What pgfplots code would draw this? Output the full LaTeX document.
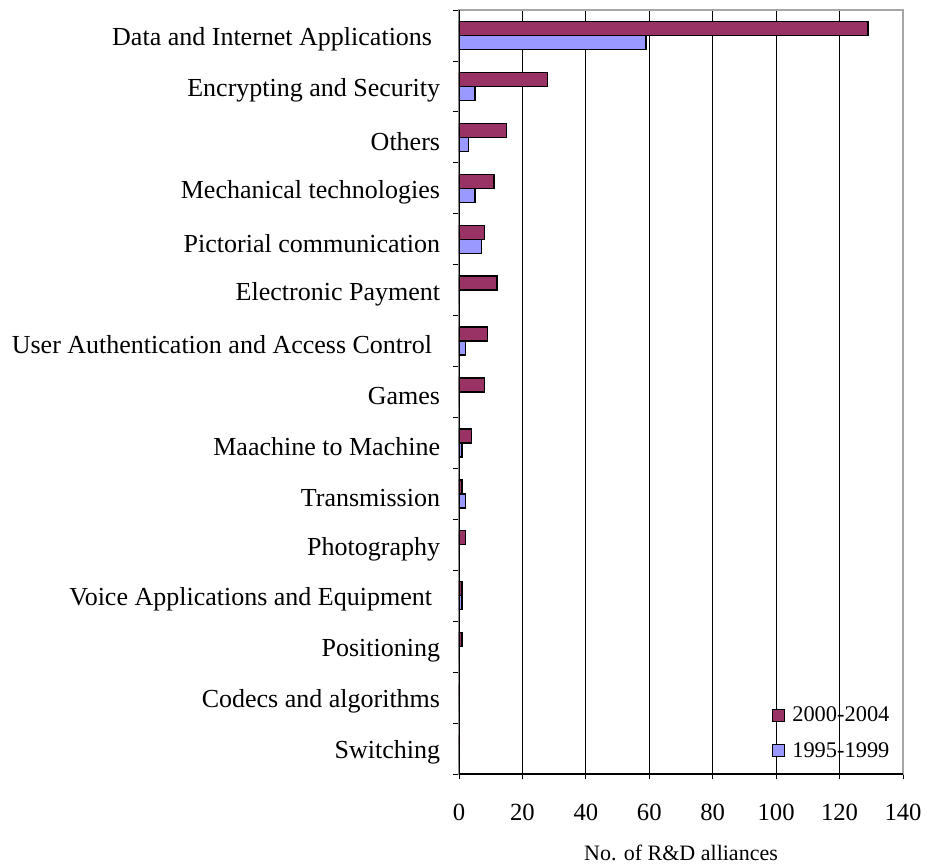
\documentclass[border=0pt]{standalone}
\usepackage{fontspec}
\setmainfont{Liberation Serif}
\usepackage{pgfplots}
\pgfplotsset{compat=1.18}
\definecolor{maroon}{HTML}{993366}
\definecolor{lblue}{HTML}{9999FF}
\begin{document}
\begin{tikzpicture}
\begin{axis}[
  scale only axis, width=333pt, height=573pt,
  xbar, y dir=reverse,
  xmin=0, xmax=140, ymin=-0.5, ymax=14.5,
  xtick={0,20,...,140},
  ytick={0,...,14},
  yticklabels={{Data and Internet Applications\hbox to 6pt{}},
    Encrypting and Security, Others, Mechanical technologies,
    Pictorial communication, Electronic Payment,
    {User Authentication and Access Control\hbox to 6pt{}},
    Games, Maachine to Machine, Transmission, Photography,
    {Voice Applications and Equipment\hbox to 6pt{}},
    Positioning, Codecs and algorithms, Switching},
  minor ytick={-0.5,0.5,...,14.5},
  major y tick style={draw=none},
  minor tick length=4.5pt,
  major tick length=4pt,
  tick align=outside,
  xtick pos=bottom, ytick pos=left,
  tick style={black, line width=0.6pt},
  xmajorgrids, grid style={black, line width=0.6pt},
  axis line style={gray!70, line width=0.8pt},
  /pgf/number format/assume math mode=true,
  xticklabel style={font=\fontsize{18.5}{21}\selectfont, yshift=-15pt},
  yticklabel style={font=\fontsize{19.5}{22}\selectfont, inner sep=0pt, xshift=-10pt, yshift=-3pt},
  xlabel={No. of R\&D alliances},
  xlabel style={font=\fontsize{16.5}{19}\selectfont, yshift=-11pt},
  bar width=10.5pt,
  legend style={draw=none, fill=none, at={(0.985,0.012)}, anchor=south east,
    font=\fontsize{16.8}{20}\selectfont, row sep=10pt},
  legend cell align=left,
  legend image code/.code={\draw[#1, draw=black, line width=0.9pt] (0pt,-4.5pt) rectangle (9pt,4.5pt);
    \path[draw=none, fill=none] (-3pt,0pt) -- (13pt,0pt);},
]
\addplot[fill=maroon, draw=black, line width=1pt, bar shift=5.25pt] coordinates {
 (129,0) (28,1) (15,2) (11,3) (8,4) (12,5) (9,6) (8,7) (4,8) (1,9) (2,10) (1,11) (1,12) (0,13) (0,14)};
\addlegendentry{2000-2004}
\addplot[fill=lblue, draw=black, line width=1pt, bar shift=-5.25pt] coordinates {
 (59,0) (5,1) (3,2) (5,3) (7,4) (0,5) (2,6) (0,7) (1,8) (2,9) (0,10) (1,11) (0,12) (0,13) (0,14)};
\addlegendentry{1995-1999}
\draw[black, line width=0.8pt] (axis cs:0,14.5) -- (axis cs:140,14.5);
\draw[black, line width=0.8pt] (axis cs:0,14.5) -- (axis cs:0,-0.5);
\end{axis}
\pgfresetboundingbox
\path[use as bounding box] ([xshift=-344.25pt, yshift=-67.5pt]current axis.south west) rectangle ([xshift=18pt, yshift=7.5pt]current axis.north east);
\end{tikzpicture}
\end{document}
